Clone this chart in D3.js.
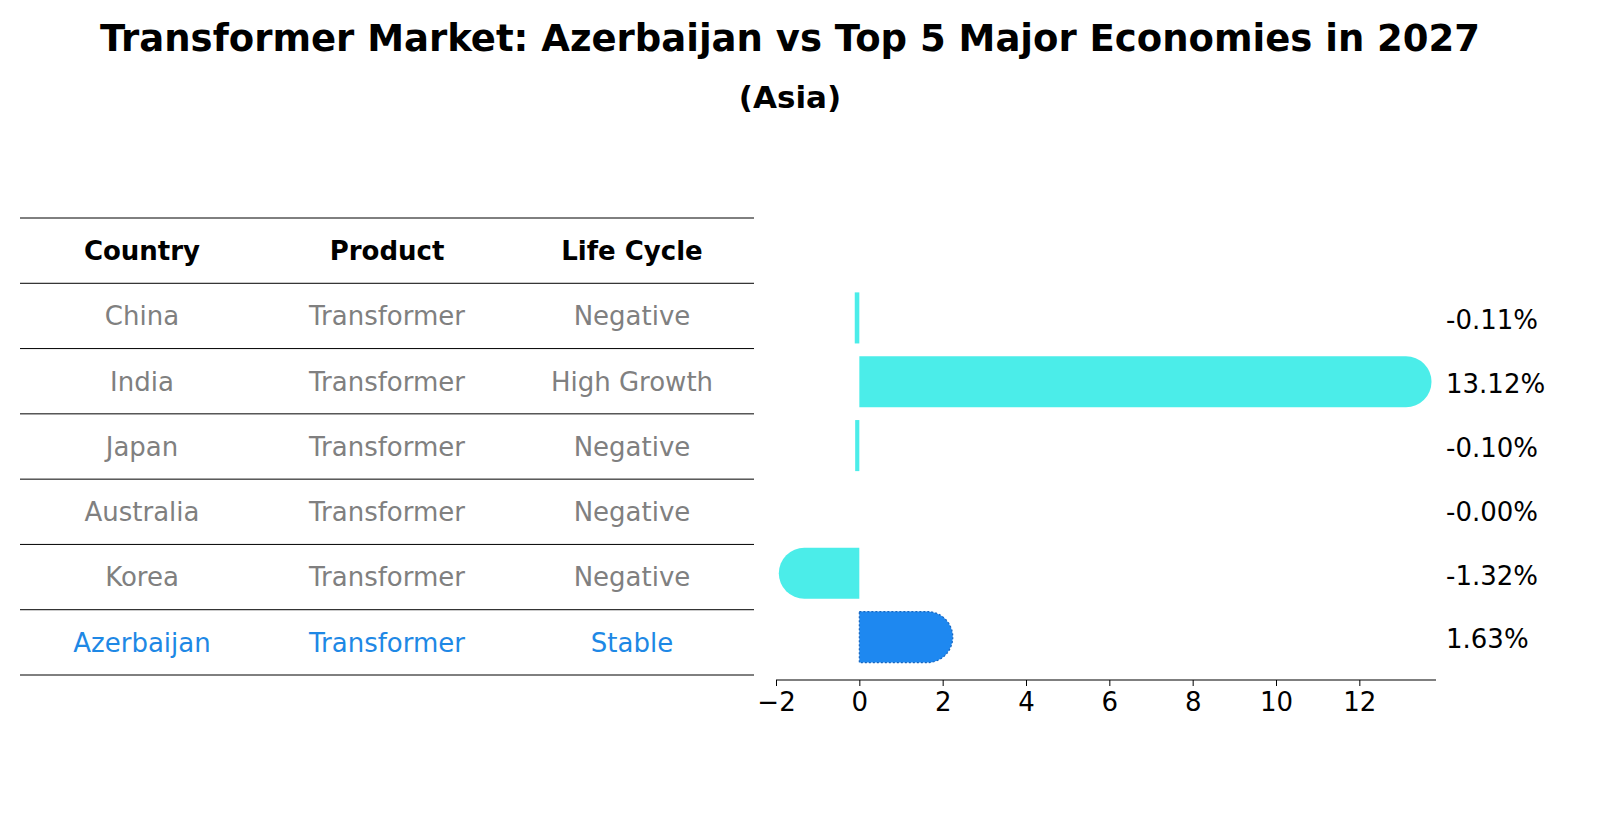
<!DOCTYPE html>
<html><head><meta charset="utf-8">
<script src="https://cdn.jsdelivr.net/npm/d3@7"></script>
<style>body{margin:0;background:#fff;font-family:"DejaVu Sans",sans-serif}</style>
</head><body>
<svg id="c" width="1604" height="823"></svg>
<script>
const countries = ["China","India","Japan","Australia","Korea","Azerbaijan"];
const products = ["Transformer","Transformer","Transformer","Transformer","Transformer","Transformer"];
const lifeCycles = ["Negative","High Growth","Negative","Negative","Negative","Stable"];
const values = [-0.11,13.12,-0.10,-0.00,-1.32,1.63];
const labels = ["-0.11%","13.12%","-0.10%","-0.00%","-1.32%","1.63%"];
const headers = ["Country","Product","Life Cycle"];
const xTicks = [-2,0,2,4,6,8,10,12];

const svg = d3.select("#c");
svg.append("text").attr("x",790).attr("y",38).attr("dy","0.36em").attr("text-anchor","middle")
  .attr("font-size",37).attr("font-weight","bold").text("Transformer Market: Azerbaijan vs Top 5 Major Economies in 2027");
svg.append("text").attr("x",790).attr("y",97).attr("dy","0.36em").attr("text-anchor","middle")
  .attr("font-size",31).attr("font-weight","bold").text("(Asia)");

// table
const colX = d3.scalePoint().domain(headers).range([142,632]);
const rowY = d3.scaleLinear().domain([0,7]).range([218,675]);
for(let i=0;i<=7;i++) svg.append("line").attr("x1",20).attr("x2",754)
  .attr("y1",rowY(i)).attr("y2",rowY(i)).attr("stroke","#000").attr("stroke-width",1);
headers.forEach(h=>svg.append("text").attr("x",colX(h)).attr("y",rowY(0.5)).attr("dy","0.36em")
  .attr("text-anchor","middle").attr("font-size",26).attr("font-weight","bold").text(h));
const cols=[countries,products,lifeCycles];
countries.forEach((c,i)=>{
  const col = c==="Azerbaijan" ? "#1E88E5" : "#808080";
  headers.forEach((h,j)=>svg.append("text").attr("x",colX(h)).attr("y",rowY(i+1.5)).attr("dy","0.36em")
    .attr("text-anchor","middle").attr("font-size",26).attr("fill",col).text(cols[j][i]));
});

// bars
const x = d3.scaleLinear().domain([-2,13.84]).range([776,1436]);
const y = d3.scaleBand().domain(countries).range([286,669]).paddingInner(0.2).paddingOuter(0.1);
const h = y.bandwidth(), r=h/2;
countries.forEach((c,i)=>{
  const v=values[i], x0=x(0), x1=x(v), top=y(c);
  const isAz=c==="Azerbaijan", fill=isAz?"#1E88F0":"#4BEDE9";
  if(Math.abs(v)<0.005) return;
  const dir = v>=0?1:-1;
  let p;
  if(Math.abs(v)>0.3){
    p = `M${x0},${top} L${x1},${top} A${r},${r} 0 0 ${dir>0?1:0} ${x1},${top+h} L${x0},${top+h} Z`;
  } else {
    const xl=Math.min(x0,x1), w=Math.abs(x1-x0);
    p = `M${xl},${top} h${w} v${h} h${-w} Z`;
  }
  svg.append("path").attr("d",p).attr("fill",fill)
    .attr("stroke",isAz?"#1565C0":"none").attr("stroke-dasharray",isAz?"2,2":null).attr("stroke-width",isAz?1.2:0);
});
countries.forEach((c,i)=>svg.append("text").attr("x",1446).attr("y",y(c)+h/2+2).attr("dy","0.36em")
  .attr("font-size",26).text(labels[i]));

const ax = svg.append("g").attr("transform","translate(0,680)")
  .call(d3.axisBottom(x).tickValues(xTicks).tickSize(6).tickFormat(d=>d<0?"\u2212"+Math.abs(d):d));
ax.selectAll("text").attr("font-size",26).attr("font-family","DejaVu Sans").attr("dy","0.85em");
ax.select(".domain").attr("stroke-width",1.2).attr("d","M776,0H1436");
</script></body></html>
